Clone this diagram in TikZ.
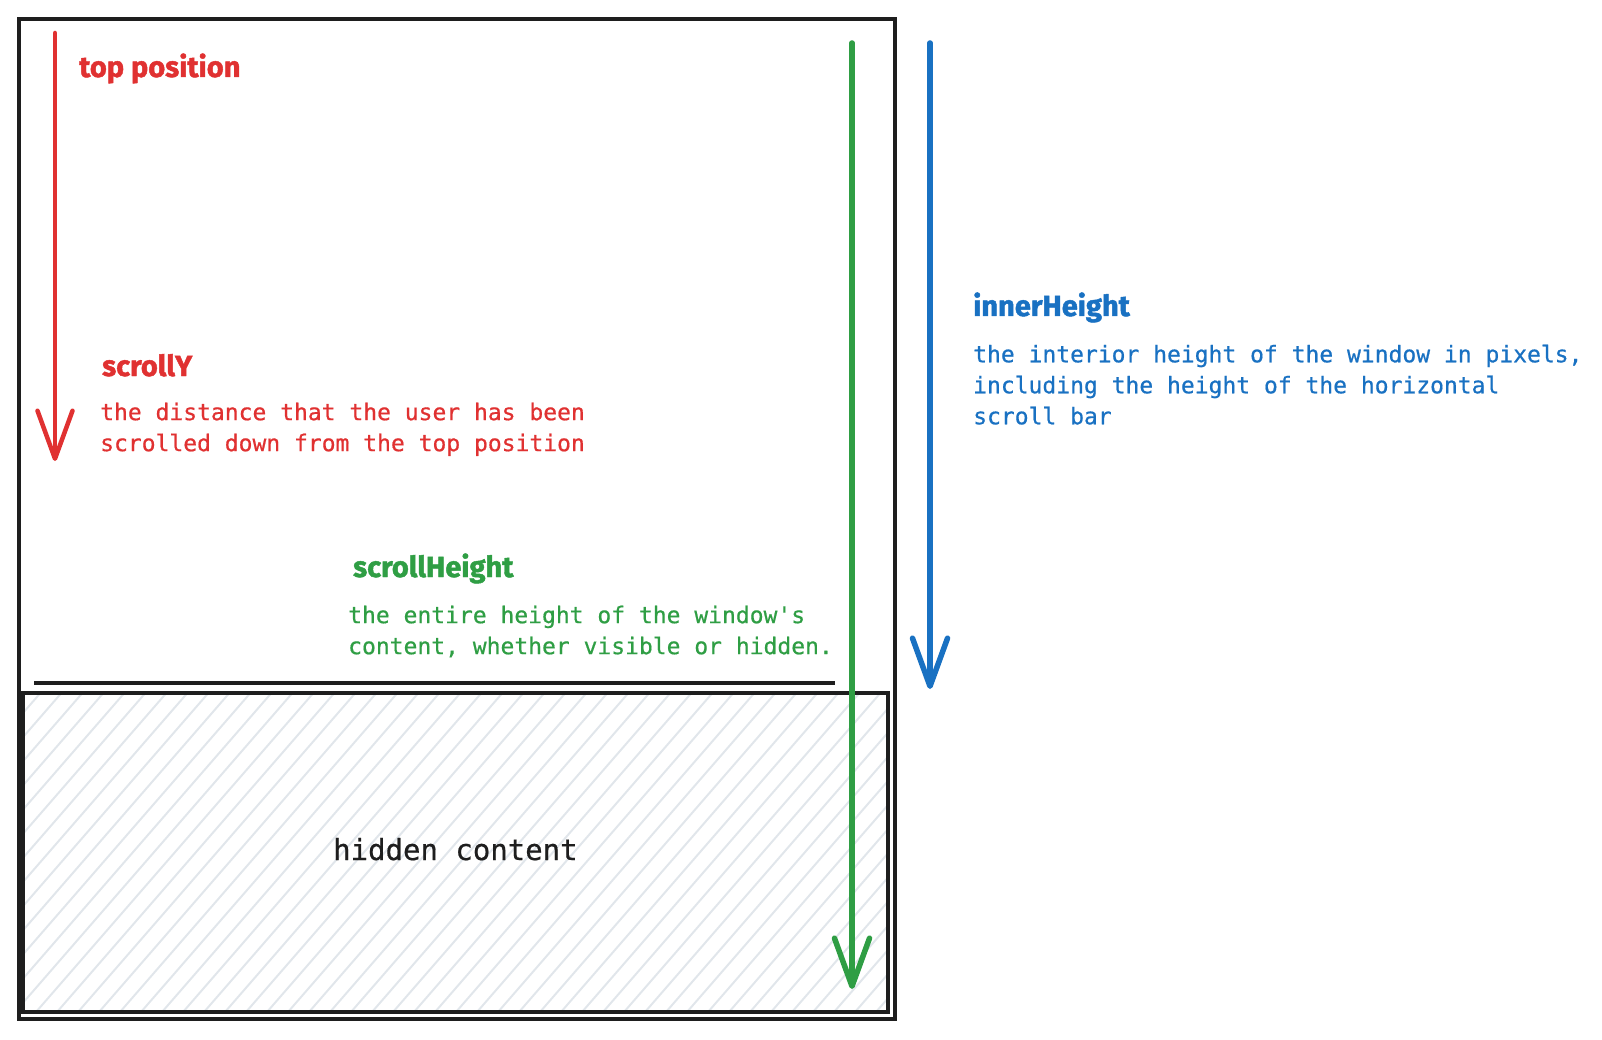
\documentclass[tikz,border=0pt]{standalone}
\usepackage{fontspec}
\usepackage{tikz}
\usetikzlibrary{arrows.meta}
\newfontfamily\codefont{DejaVu Sans Mono}[FakeBold=0.6]
\newfontfamily\headfont{Fira Sans}[BoldFeatures={FakeBold=1.6}]
\definecolor{ink}{HTML}{1E1E1E}
\definecolor{redink}{HTML}{E03131}
\definecolor{greenink}{HTML}{2F9E44}
\definecolor{blueink}{HTML}{1971C2}
\definecolor{hatchgray}{HTML}{E1E6EB}
\tikzset{
  frame/.style={draw=ink, line width=4pt},
  hatchline/.style={draw=hatchgray, line width=2pt},
  heading/.style={anchor=base west, inner sep=0pt, font=\headfont\bfseries\fontsize{29}{29}\selectfont},
  note/.style={anchor=north west, inner sep=0pt, align=left, font=\codefont\fontsize{23}{31}\selectfont},
  pointer/.style={line width=#1, line cap=round, -{Straight Barb[length=48pt,width=35pt,round]}}
}

\begin{document}
\begin{tikzpicture}[x=1pt,y=-1pt]
\useasboundingbox (0,0) rectangle (1602,1040);
% hidden part of the page
\begin{scope}
\clip (23,693) rectangle (888,1012);
\foreach \i in {-300,-279,...,900}
  \draw[hatchline] (\i,1012) -- ++(300,-345);
\end{scope}
\draw[frame, line width=3.5pt] (23,693) rectangle (888,1012);
% window
\draw[frame] (19,19) rectangle (895,1019);
\coordinate (foldl) at (34,683);
\coordinate (foldr) at (835,683);
\draw[frame] (foldl) -- (foldr);
% arrows
\coordinate (ystart) at (55,33);
\coordinate (yend) at (55,461);
\coordinate (sstart) at (852,43);
\coordinate (send) at (852,989);
\coordinate (istart) at (930,43);
\coordinate (iend) at (930,689);
\draw[pointer=4.5pt, redink] (ystart) -- (yend);
\draw[pointer=5.5pt, greenink] (sstart) -- (send);
\draw[pointer=5.5pt, blueink] (istart) -- (iend);
% labels
\node[heading, redink] (toppos) at (79,77) {top position};
\node[heading, redink] (scrolly) at (102,376) {scrollY};
\node[note, redink] (scrollytxt) at (100,402.5) {the distance that the user has been\\scrolled down from the top position};
\node[heading, greenink] (scrollh) at (353,577) {scrollHeight};
\node[note, greenink] (scrollhtxt) at (348,605.5) {the entire height of the window's\\content, whether visible or hidden.};
\node[heading, blueink] (innerh) at (973,316) {innerHeight};
\node[note, blueink] (innerhtxt) at (973,344.5) {the interior height of the window in pixels,\\including the height of the horizontal\\scroll bar};
\node[anchor=base west, inner sep=0pt, ink, font=\codefont\fontsize{29}{29}\selectfont] (hidden) at (333,860) {hidden content};
\end{tikzpicture}
\end{document}
